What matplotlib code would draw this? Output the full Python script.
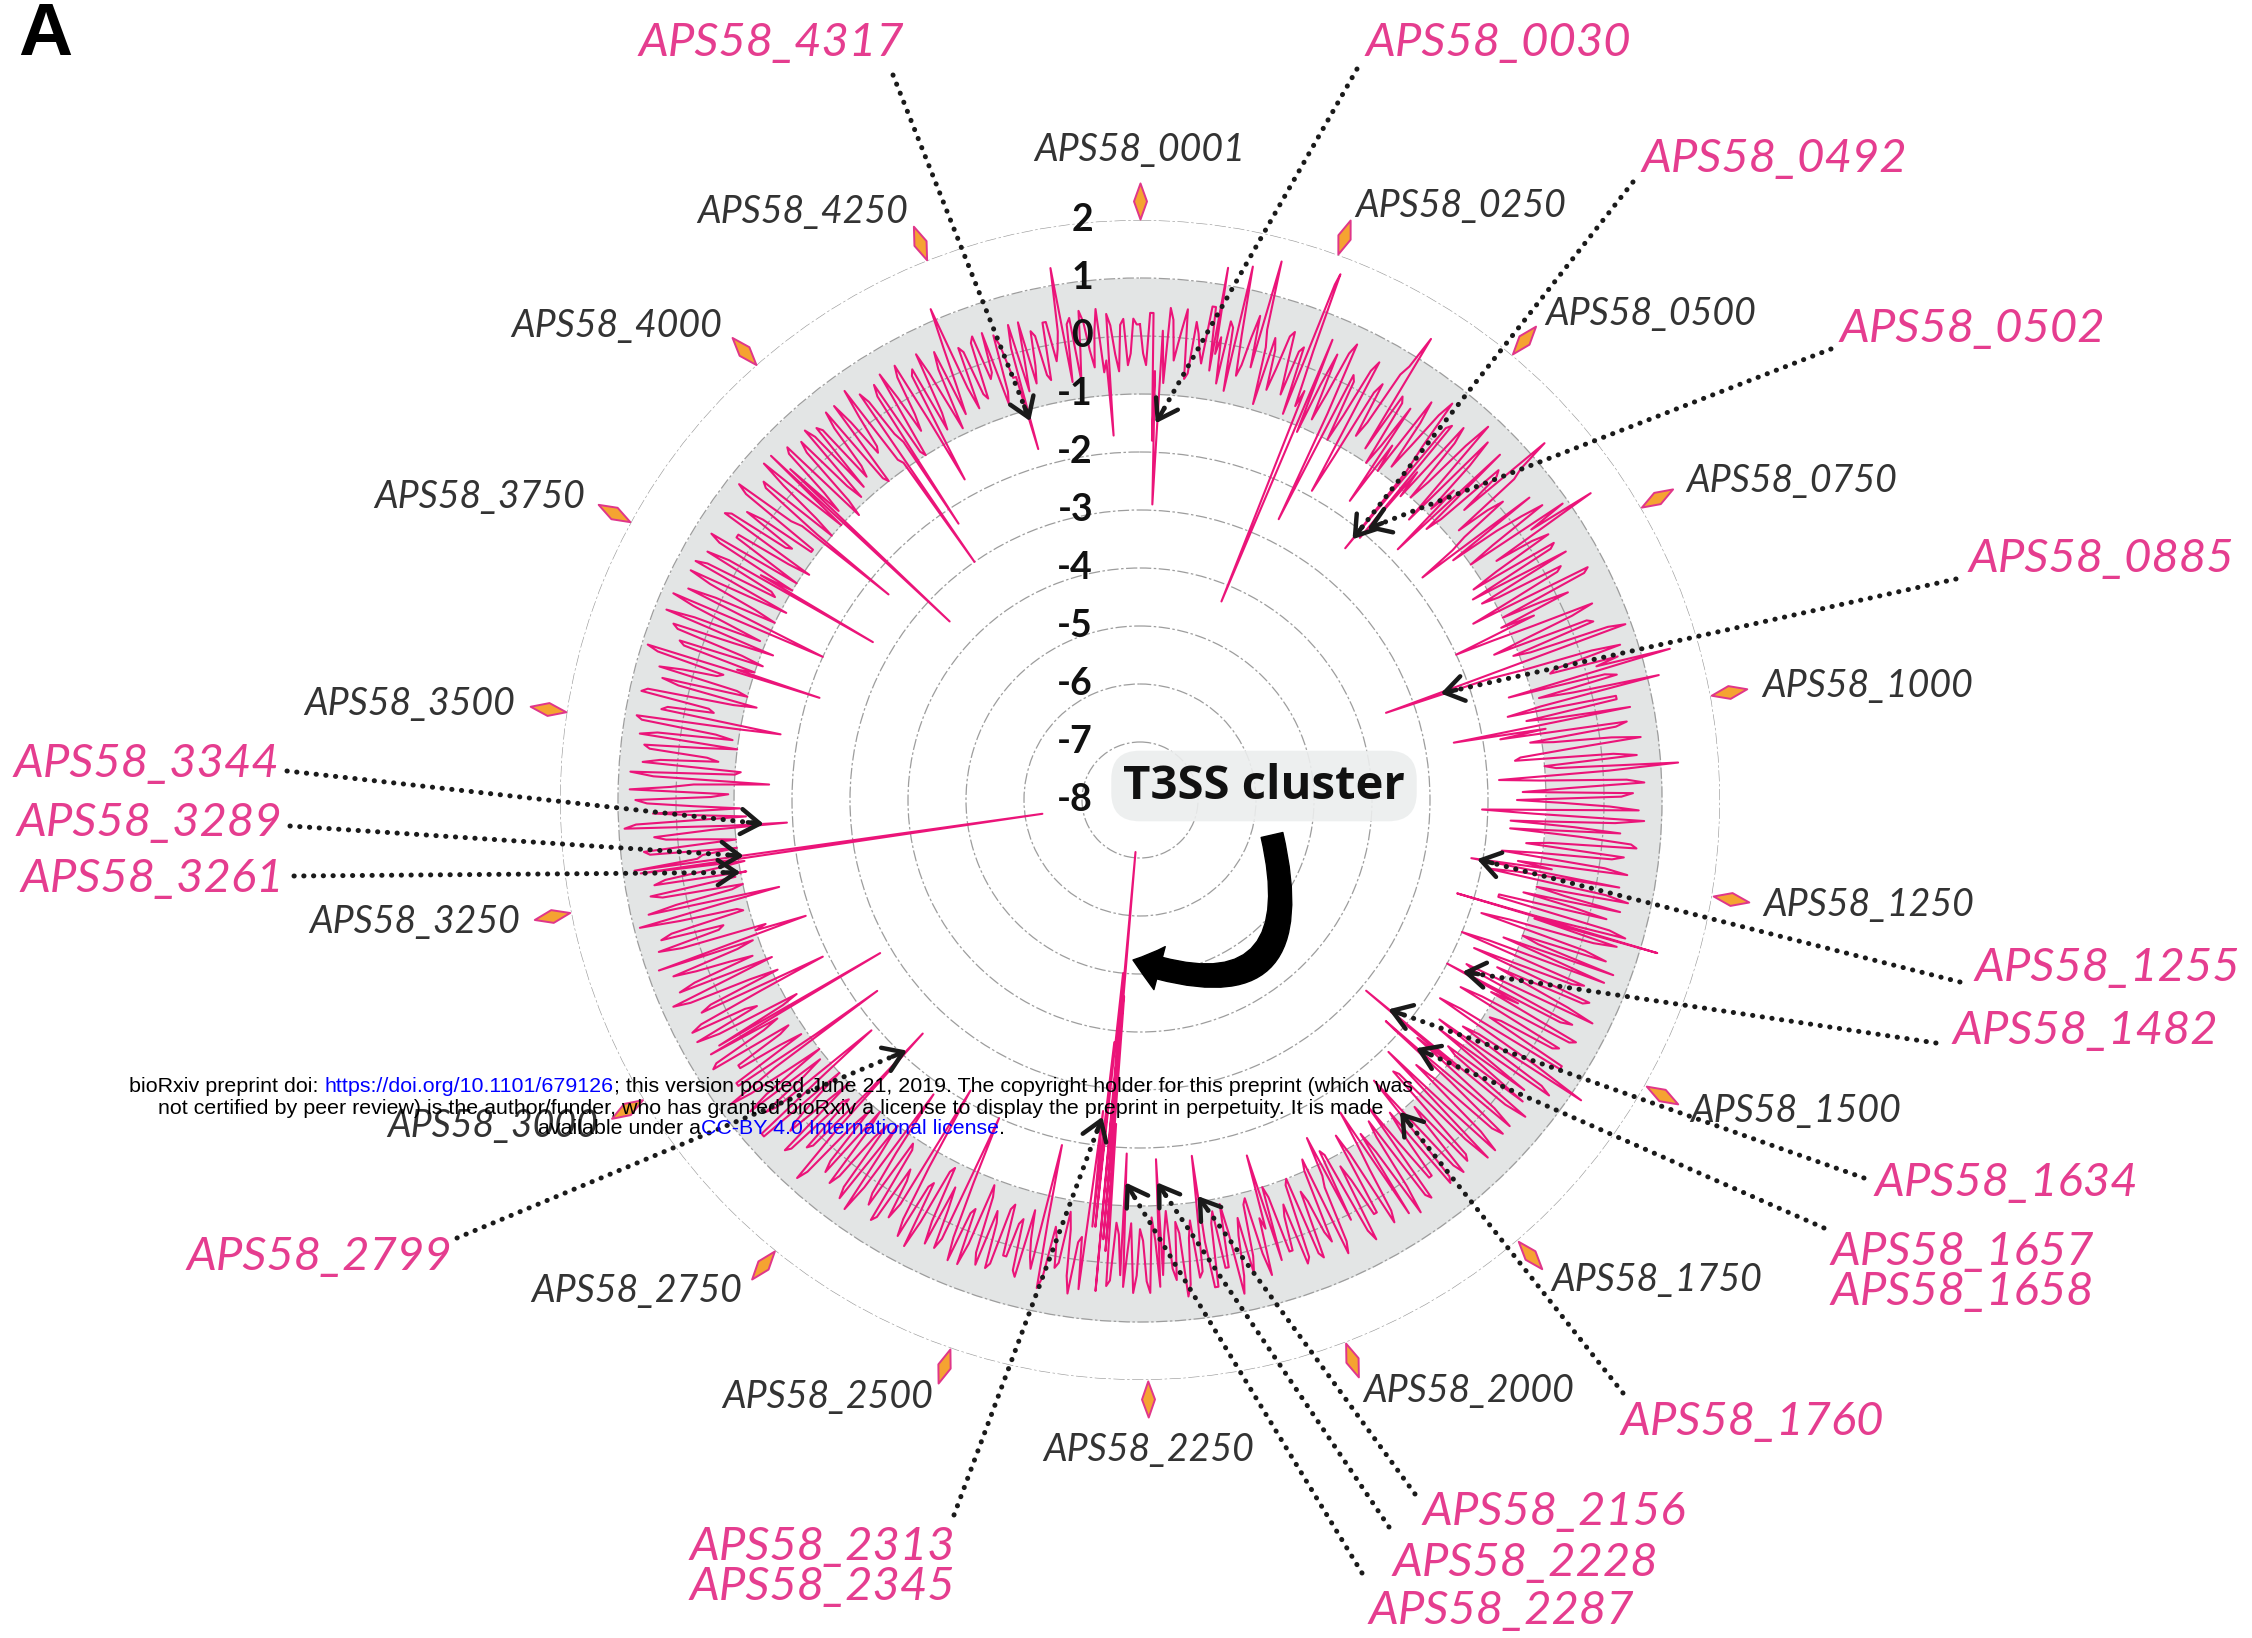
import numpy as np
import matplotlib
matplotlib.use("Agg")
import matplotlib.pyplot as plt
from matplotlib import font_manager
from matplotlib.markers import MarkerStyle
from matplotlib.path import Path
from matplotlib.transforms import IdentityTransform, offset_copy

W, H = 2252, 1638
N_GENES = 4520
STEP = 10

# log2 fold change, one reading every STEP genes from APS58_0001 on
lfc_sampled = [
    0.2, -0.5, 0.4, -0.3, -0.8, 0.3, -0.1, 0.5, -0.6, 0.1, -0.4, 0.6, -0.2, -0.7, 0.3, 1.4, -0.5, 0.2, -0.3, 0.4, -0.9, 0.1, -0.2, 0.5, -0.6,
    0.3, 1.5, -0.7, 0.2, -1.1, 0.4, -0.3, 0.7, -0.9, 0.1, -0.5, 0.6, -1.2, 0.3, -0.4, 0.8, -0.8, 0.2, -0.6, 0.5, -1.0, 0.1, -0.3, 0.7, -0.7,
    0.4, -1.1, 0.2, -0.6, 0.8, -1.3, 0.1, -0.4, 0.6, -0.9, 0.3, -1.4, 0.5, -0.2, -0.8, 0.7, -1.2, 0.2, -0.5, 0.9, -1.0, 0.1, -0.7, 0.4, -1.3,
    0.5, -0.9, 0.2, -1.5, 0.6, -0.3, -1.1, 0.8, -0.6, 0.1, -1.4, 0.4, -0.8, 0.9, -1.6, 0.2, -0.5, 0.6, -1.2, 0.3, -0.9, 1.2, -1.5, 0.4, -0.7,
    0.6, -1.7, 0.3, -0.8, 0.7, -1.4, 0.2, -1.0, 0.8, -1.8, 0.4, -0.6, 0.5, -1.5, 0.1, -0.9, 0.7, -1.6, 0.3, -0.4, 0.6, -1.3, 0.2, -1.7, 0.5,
    -0.8, 0.4, -1.9, 0.6, -0.5, -1.2, 0.3, -1.6, 0.7, -0.9, 0.2, -1.8, 0.5, -0.7, -1.3, 0.6, -1.0, 0.1, -1.7, 0.4, -0.6, 0.7, -1.5, 0.2, -1.1,
    0.5, -1.6, 0.3, -0.9, 0.6, -1.8, 0.1, -1.2, 0.7, -0.7, -1.5, 0.4, -1.0, 0.2, -1.7, 0.5, -0.8, 0.3, -1.4, 0.6, -1.1, 0.1, -1.6, 0.4, -0.6,
    0.3, -1.3, 0.5, -0.7, 0.2, -1.4, 0.4, -0.9, 0.6, -1.1, 0.1, -0.5, 0.5, -1.3, 0.2, -0.8, 0.4, -1.2, 0.3, -0.6, 0.6, -1.0, 0.1, -0.7, 0.4,
    -0.9, 0.5, -0.4, 0.2, -1.0, 0.6, -0.5, 0.1, -0.8, 0.4, -0.3, 0.7, -0.9, 0.2, -0.6, 0.5, -1.0, 0.3, -0.4, 0.6, -0.7, 0.1, -0.5, 0.4, -0.8,
    0.3, -0.6, 0.5, -0.2, 0.2, -0.7, 0.4, -0.4, 0.1, -0.6, 0.5, -0.3, 0.3, -0.8, 0.2, -0.5, 0.6, -0.2, 0.1, -0.7, 0.4, -0.4, 0.2, -0.6, 0.5,
    -0.5, 0.3, -0.9, 0.6, -0.3, 0.2, -1.0, 0.5, -0.6, 0.1, -0.8, 0.7, -0.4, 0.3, -1.1, 0.4, -0.5, 0.6, -0.9, 0.2, -0.3, 0.7, -1.0, 0.4, -0.6,
    0.5, -1.0, 0.2, -0.5, 0.8, -1.1, 0.3, -0.7, 0.6, -0.4, 0.1, -1.0, 0.7, -0.6, 0.4, -0.9, 0.2, -0.3, 0.8, -1.1, 0.5, -0.5, 0.3, -0.8, 0.6,
    -0.7, 0.4, -1.2, 0.7, -0.3, 0.5, -1.0, 0.2, -0.6, 0.8, -1.1, 0.3, -0.4, 0.6, -0.9, 0.1, -1.2, 0.7, -0.5, 0.4, -0.8, 0.9, -0.6, 0.2, -1.0,
    0.6, -0.8, 0.3, -1.1, 0.8, -0.4, 0.5, -1.0, 0.2, -0.6, 0.9, -1.2, 0.4, -0.3, 0.7, -0.9, 0.1, -0.7, 0.8, -1.1, 0.3, -0.5, 0.6, -1.0, 0.4,
    -0.6, 0.8, -1.1, 0.3, -0.4, 0.7, -1.2, 0.5, -0.8, 0.2, -0.5, 0.9, -1.0, 0.4, -0.7, 0.6, -1.2, 0.3, -0.3, 0.8, -0.9, 0.1, -0.6, 0.7, -1.1,
    0.5, -0.7, 0.2, -1.0, 0.7, -0.4, 0.3, -1.1, 0.6, -0.6, 0.1, -0.9, 0.8, -0.5, 0.4, -1.0, 0.2, -0.3, 0.7, -0.8, 0.5, -1.1, 0.3, -0.6, 0.6,
    -0.8, 0.4, -0.5, 0.6, -1.0, 0.2, -0.4, 0.7, -0.9, 0.3, -0.6, 0.5, -1.0, 0.1, -0.3, 0.6, -0.8, 0.4, -0.5, 0.2, -0.9, 0.5, -0.2, 0.6, -0.7,
    0.3, -0.6, 0.5, -0.2, -0.8, 0.4, -0.4, 0.1, -0.7, 0.5, -0.3, 0.2, -0.6, 0.4, -0.1, -0.5, 0.3, -0.7, 0.5, -0.2, 0.1, -0.6, 0.4, -0.3, 0.2, -0.5, 0.3,
]
# second set of readings, offset by half a step (genes 5, 15, 25, ...)
lfc_sampled_mid = [
    -0.3, 0.4, -0.6, 0.1, 0.5, -0.4, 0.2, -0.7, 0.3, -0.2, 0.6, -0.5, 0.1, 0.4, -0.8, 0.2, -0.3, 0.6, -0.4, 0.1, 0.3, -0.6, 0.4, -0.1, 0.2,
    -0.9, 0.3, -0.4, 0.6, -0.2, -0.8, 0.5, -0.6, 0.2, -1.0, 0.4, -0.3, 0.1, -0.7, 0.6, -0.4, 0.3, -1.0, 0.2, -0.5, 0.5, -0.8, 0.4, -0.2, 0.3,
    -0.6, 0.5, -1.0, 0.3, -0.4, 0.6, -0.9, 0.2, -1.2, 0.4, -0.5, 0.7, -0.8, 0.1, -1.1, 0.5, -0.3, 0.6, -1.0, 0.2, -0.6, 0.4, -1.2, 0.3, -0.5,
    -1.2, 0.3, -0.7, 0.7, -1.0, 0.2, -0.5, -1.3, 0.5, -0.8, 0.3, -1.1, 0.6, -0.4, -1.0, 0.7, -0.6, 0.2, -1.4, 0.5, -0.3, -0.9, 0.4, -1.2, 0.6,
    -0.9, 0.5, -1.2, 0.2, -0.6, -1.5, 0.6, -0.8, 0.1, -1.1, 0.7, -1.4, 0.3, -0.7, 0.6, -1.2, 0.2, -0.5, -1.6, 0.5, -0.9, 0.4, -1.1, 0.1, -1.4,
    0.6, -1.4, 0.2, -1.0, 0.5, -0.3, -1.6, 0.4, -0.8, 0.6, -1.3, 0.1, -1.0, 0.7, -0.4, -1.5, 0.3, -0.9, 0.5, -1.2, 0.2, -1.7, 0.4, -0.6, 0.6,
    -1.2, 0.4, -0.7, 0.6, -1.4, 0.2, -0.9, 0.5, -1.6, 0.3, -0.5, -1.2, 0.6, -0.8, 0.1, -1.3, 0.5, -1.0, 0.2, -0.6, 0.6, -1.5, 0.3, -0.9, 0.5,
    -0.8, 0.4, -1.1, 0.2, -0.6, 0.5, -1.2, 0.1, -0.7, 0.5, -1.0, 0.3, -0.9, 0.2, -0.5, 0.6, -1.1, 0.1, -0.8, 0.4, -1.2, 0.3, -0.5, 0.5, -1.0,
    0.4, -0.6, 0.2, -0.8, 0.3, -0.3, 0.5, -0.9, 0.1, -0.6, 0.4, -0.4, 0.2, -0.8, 0.5, -0.3, 0.2, -0.7, 0.4, -0.5, 0.3, -0.9, 0.2, -0.4, 0.5,
    -0.4, 0.2, -0.7, 0.4, -0.5, 0.3, -0.2, 0.5, -0.6, 0.2, -0.4, 0.6, -0.5, 0.1, -0.3, 0.4, -0.6, 0.3, -0.2, 0.5, -0.5, 0.2, -0.7, 0.4, -0.3,
    0.5, -0.7, 0.2, -0.4, 0.6, -0.8, 0.3, -0.2, 0.5, -0.9, 0.2, -0.5, 0.6, -0.7, 0.1, -0.3, 0.5, -0.8, 0.4, -0.6, 0.2, -0.4, 0.6, -0.9, 0.3,
    -0.6, 0.4, -0.9, 0.6, -0.3, 0.2, -0.8, 0.5, -1.0, 0.3, -0.4, 0.7, -0.7, 0.2, -0.5, 0.6, -1.0, 0.4, -0.2, 0.5, -0.9, 0.3, -0.6, 0.7, -0.4,
    0.6, -0.9, 0.3, -0.5, 0.7, -0.7, 0.4, -1.1, 0.5, -0.3, 0.6, -0.8, 0.2, -0.6, 0.8, -1.0, 0.3, -0.4, 0.6, -0.9, 0.2, -0.5, 0.7, -0.8, 0.4,
    -0.9, 0.5, -0.6, 0.7, -0.3, -1.0, 0.6, -0.5, 0.4, -0.9, 0.7, -0.4, -1.1, 0.5, -0.6, 0.8, -0.3, 0.4, -1.0, 0.6, -0.7, 0.5, -0.4, 0.7, -0.9,
    0.7, -0.9, 0.4, -0.5, 0.8, -0.8, 0.2, -1.0, 0.6, -0.4, 0.7, -0.7, 0.3, -1.1, 0.5, -0.5, 0.8, -0.9, 0.4, -0.6, 0.6, -1.0, 0.3, -0.4, 0.7,
    -0.8, 0.6, -0.4, 0.5, -1.0, 0.3, -0.7, 0.7, -0.5, 0.4, -0.9, 0.6, -0.3, -0.8, 0.5, -0.6, 0.7, -1.0, 0.3, -0.4, 0.6, -0.8, 0.5, -0.9, 0.4,
    0.5, -0.7, 0.3, -0.9, 0.6, -0.5, 0.2, -0.8, 0.5, -0.4, 0.3, -0.9, 0.6, -0.6, 0.4, -0.5, 0.3, -0.8, 0.6, -0.4, 0.2, -0.7, 0.5, -0.3, 0.4,
    -0.5, 0.4, -0.3, 0.5, -0.6, 0.2, -0.4, 0.5, -0.2, -0.6, 0.3, -0.5, 0.4, -0.3, 0.2, -0.7, 0.4, -0.2, 0.3, -0.5, 0.5, -0.4, 0.2, -0.6, 0.3, -0.3, 0.2,
]

# isolated genes that stick out of the band
spike_genes = [24, 30, 118, 185, 262, 280, 330, 365, 405, 440,
               492, 502, 575, 610, 650, 700, 820, 885, 930, 1000,
               1080, 1150, 1255, 1336, 1337, 1410, 1482, 1560, 1634, 1657,
               1658, 1700, 1760, 1850, 1930, 2050, 2156, 2228, 2287, 2313,
               2318, 2322, 2326, 2330, 2336, 2345, 2420, 2560, 2640, 2700,
               2799, 2880, 2938, 3007, 3060, 3150, 3220, 3261, 3289, 3344,
               3420, 3520, 3612, 3695, 3774, 3883, 3932, 4083, 4102, 4160,
               4230, 4317, 4400, 4468]
spike_lfc = [-1.8, -2.9, 1.3, 1.6, 1.7, -4.3, -2.6, -1.9, 1.4, -1.7,
             -2.4, -2.1, -1.8, 1.3, -1.8, 1.4, -2.0, -3.5, 1.5, -2.5,
             1.3, -2.1, -2.2, -2.3, 1.3, -2.0, -2.0, 1.2, -2.9, -2.3,
             -2.1, -1.9, -1.7, -1.6, -1.5, -1.6, -1.8, -1.8, -1.9, -2.4,
             -4.6, -7.1, -3.2, -5.0, -3.8, -2.6, -1.9, -2.0, -2.2, -1.8,
             -2.5, -1.9, -2.4, -2.8, -1.9, -1.9, -1.6, -1.1, -6.3, -1.9,
             -1.6, -1.7, -2.2, -2.0, -2.65, -2.4, -3.5, -3.0, -2.3, -1.7,
             1.2, -1.7, 1.3, -1.7]

ring_values = [-8, -7, -6, -5, -4, -3, -2, -1, 0, 1, 2]
band_lo, band_hi = -1, 1

axis_genes = [0, 250, 500, 750, 1000, 1250, 1500, 1750, 2000, 2250, 2500,
              2750, 3000, 3250, 3500, 3750, 4000, 4250]
axis_labels = ["APS58_0001", "APS58_0250", "APS58_0500", "APS58_0750",
               "APS58_1000", "APS58_1250", "APS58_1500", "APS58_1750",
               "APS58_2000", "APS58_2250", "APS58_2500", "APS58_2750",
               "APS58_3000", "APS58_3250", "APS58_3500", "APS58_3750",
               "APS58_4000", "APS58_4250"]

callout_labels = ["APS58_4317", "APS58_0030", "APS58_0492", "APS58_0502",
                  "APS58_0885", "APS58_1255", "APS58_1482", "APS58_1634",
                  "APS58_1657\nAPS58_1658", "APS58_1760", "APS58_2156",
                  "APS58_2228", "APS58_2287", "APS58_2313\nAPS58_2345",
                  "APS58_2799", "APS58_3344", "APS58_3289", "APS58_3261"]
callout_genes = [4317, 30, 492, 502, 885, 1255, 1482, 1634, 1657, 1760,
                 2156, 2228, 2287, 2345, 2799, 3344, 3289, 3261]
callout_lfc = [-1.2, -1.5, -2.2, -1.9, -2.5, -2.1, -1.7, -2.4, -1.6, -1.0,
               -1.1, -1.4, -1.4, -2.5, -2.1, -1.5, -1.1, -1.0]

# layout (image pixels, y down)
callout_text_xy = [(771, 43), (1498, 43), (1774, 159), (1972, 329), (2101, 559),
                   (2107, 968), (2085, 1031), (2006, 1183), (1962, 1272),
                   (1752, 1422), (1554, 1512), (1525, 1563), (1501, 1611),
                   (822, 1567), (319, 1257), (146, 764), (149, 823), (152, 879)]
callout_tail_xy = [(893, 75), (1357, 69), (1633, 182), (1831, 349), (1956, 579),
                   (1960, 982), (1936, 1043), (1864, 1178), (1824, 1228),
                   (1623, 1393), (1415, 1494), (1389, 1527), (1362, 1573),
                   (954, 1515), (457, 1238), (287, 771), (290, 826), (294, 876)]

fams = {f.name for f in font_manager.fontManager.ttflist}


def pick(*names):
    for n in names:
        if n in fams:
            return n
    return "DejaVu Sans"


LABEL_FONT = pick("Lato", "Open Sans", "Noto Sans")
BOX_FONT = pick("Open Sans", "Lato", "Noto Sans")
WM_FONT = pick("Liberation Sans Narrow", "Liberation Sans")
WM_SIZE = 18.8 if WM_FONT == "Liberation Sans Narrow" else 15.4

LINE_C = "#eb1479"
PINK_C = "#e53d8f"
ARROW_C = "#1a1a1a"

fig = plt.figure(figsize=(W / 100, H / 100), dpi=100)
cx, cy, R = 1140, 800, 580
ax = fig.add_axes([(cx - R) / W, 1 - (cy + R) / H, 2 * R / W, 2 * R / H],
                  projection="polar")
ax.set_theta_zero_location("N")
ax.set_theta_direction(-1)
ax.set_ylim(ring_values[0], ring_values[-1])
ax.set_xticks([])
ax.set_yticks(ring_values)
ax.set_yticklabels([])
ax.yaxis.grid(True, color="#9d9d9d", lw=0.9, ls=(0, (9, 2, 2, 2)))
ax.spines["polar"].set_visible(False)
ax.patch.set_alpha(0)

tt = np.linspace(0, 2 * np.pi, 721)
ax.fill_between(tt, band_lo, band_hi, color="#e3e5e5", lw=0, zorder=0.8)

# merge both reading sets and the spikes into one series ordered by gene
values = dict(zip(range(0, STEP * len(lfc_sampled), STEP), lfc_sampled))
values.update(zip(range(STEP // 2, STEP * len(lfc_sampled_mid), STEP), lfc_sampled_mid))
values.update(zip(spike_genes, spike_lfc))
genes = np.array(sorted(values))
lfc = np.array([values[g] for g in genes])
theta = 2 * np.pi * genes / N_GENES
ax.plot(np.append(theta, 2 * np.pi), np.append(lfc, lfc[0]),
        color=LINE_C, lw=1.5, zorder=3)

# category markers and labels
diamond = Path([(0, 1), (0.36, 0), (0, -1), (-0.36, 0), (0, 1)],
               [Path.MOVETO, Path.LINETO, Path.LINETO, Path.LINETO, Path.CLOSEPOLY])
for g, lab in zip(axis_genes, axis_labels):
    th = 2 * np.pi * g / N_GENES
    ax.plot([th], [2.33], marker=MarkerStyle(diamond).rotated(deg=-np.degrees(th)),
            ms=26, mfc="#f5a331", mec="#e0368a", mew=1.4, clip_on=False, zorder=4)
    s, c = np.sin(th), np.cos(th)
    if s > 0.2:
        ha, va = "left", "center"
    elif s < -0.2:
        ha, va = "right", "center"
    else:
        ha, va = "center", ("bottom" if c > 0 else "top")
    ax.text(th, 2.9, lab, ha=ha, va=va, fontsize=27, style="italic",
            color="#333333", family=LABEL_FONT, clip_on=False, zorder=5)

# ring value labels along the top radius
tr = offset_copy(ax.transData, fig=fig, x=-47, y=0, units="dots")
for v in ring_values:
    ax.text(0, v, str(v), transform=tr, ha="right", va="center", fontsize=27,
            weight="bold", family=LABEL_FONT, color="#111111", zorder=6)

# call-outs with dotted arrows
for lab, g, r, (tx, ty), (sx, sy) in zip(callout_labels, callout_genes, callout_lfc,
                                          callout_text_xy, callout_tail_xy):
    T = np.array(ax.transData.transform((2 * np.pi * g / N_GENES, r)))
    S = np.array([sx, H - sy], dtype=float)
    u = (T - S) / np.hypot(*(T - S))
    ax.annotate("", xy=tuple(T - u * 10), xycoords="figure pixels",
                xytext=tuple(S), textcoords="figure pixels",
                arrowprops=dict(arrowstyle="-", ls=(0, (0.05, 1.9)), lw=3.6,
                                capstyle="round", color=ARROW_C,
                                shrinkA=0, shrinkB=0),
                annotation_clip=False, zorder=7)
    ax.annotate("", xy=tuple(T), xycoords="figure pixels",
                xytext=tuple(T - u * 16), textcoords="figure pixels",
                arrowprops=dict(arrowstyle="->,head_length=0.75,head_width=0.5",
                                lw=3.2, color=ARROW_C, shrinkA=0, shrinkB=0,
                                mutation_scale=18),
                annotation_clip=False, zorder=7)
    fig.text(tx / W, 1 - ty / H, lab, ha="center", va="center", fontsize=34,
             style="italic", color=PINK_C, family=LABEL_FONT, linespacing=0.95)

# T3SS cluster box and curved arrow
fig.text(1264 / W, 1 - 786 / H, "T3SS cluster", ha="center", va="center",
         fontsize=34, weight="bold", family=BOX_FONT, color="#111111", zorder=8,
         bbox=dict(boxstyle="round,pad=0.25,rounding_size=0.6", fc="#eceeee",
                   ec="none", alpha=0.9))
ax.annotate("", xy=(1133, H - 960), xycoords="figure pixels",
            xytext=(1272, H - 835), textcoords="figure pixels",
            arrowprops=dict(arrowstyle="simple,head_length=1.0,head_width=1.6,tail_width=0.8",
                            connectionstyle="arc3,rad=-0.9", fc="black", ec="black",
                            mutation_scale=20, shrinkA=0, shrinkB=0),
            annotation_clip=False, zorder=8)

fig.text(18 / W, 1 - 55 / H, "A", ha="left", va="baseline", fontsize=54,
         weight="bold", family=pick("Liberation Sans", "DejaVu Sans"))

# bioRxiv watermark
renderer = fig.canvas.get_renderer()
wm_lines = [
    [("bioRxiv preprint doi: ", "black"), ("https://doi.org/10.1101/679126", "#0000ff"),
     ("; this version posted June 21, 2019. The copyright holder for this preprint (which was", "black")],
    [("not certified by peer review) is the author/funder, who has granted bioRxiv a license to display the preprint in perpetuity. It is made", "black")],
    [("available under a", "black"), ("CC-BY 4.0 International license", "#0000ff"), (".", "black")],
]
wm_y = [1087, 1108, 1129]


def text_width(s):
    t = fig.text(0, 0, s + "|", fontsize=WM_SIZE, family=WM_FONT)
    t2 = fig.text(0, 0, "|", fontsize=WM_SIZE, family=WM_FONT)
    w = t.get_window_extent(renderer).width - t2.get_window_extent(renderer).width
    t.remove()
    t2.remove()
    return w


for parts, y in zip(wm_lines, wm_y):
    widths = [text_width(s) for s, _ in parts]
    x = 771 - sum(widths) / 2
    for (s, col), w in zip(parts, widths):
        fig.text(x, H - y, s, transform=IdentityTransform(), ha="left", va="center",
                 fontsize=WM_SIZE, family=WM_FONT, color=col, zorder=20)
        x += w

fig.savefig("out.png", dpi=100, facecolor="white")
